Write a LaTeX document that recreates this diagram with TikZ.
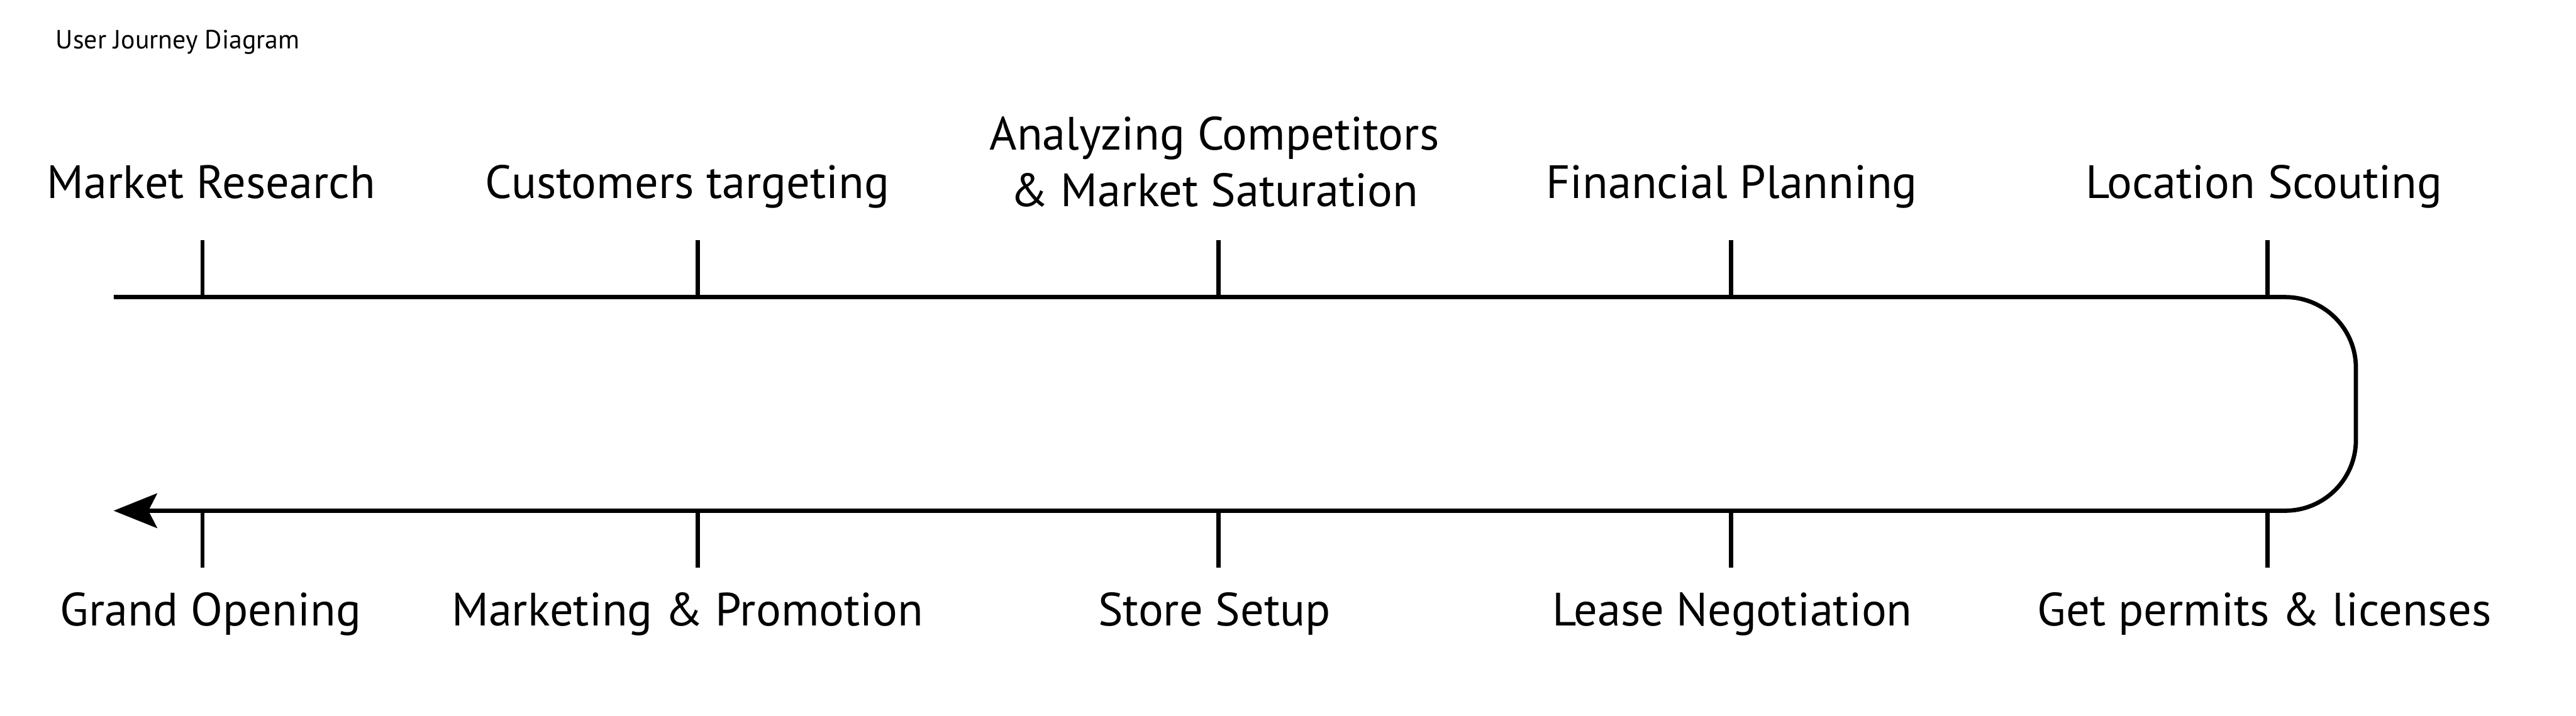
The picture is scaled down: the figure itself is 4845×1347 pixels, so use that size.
\documentclass[tikz,border=0pt]{standalone}
\usepackage{fontspec}
\setmainfont{PT Sans}
\usetikzlibrary{arrows.meta}
\tikzset{
  journey/.style={line width=8pt, rounded corners=133pt,
    -{Stealth[length=82pt,width=66pt,inset=17pt,line width=0.01pt]}},
  tickmark/.style={line width=8pt},
  stage/.style={anchor=base, inner sep=0pt, align=center,
    font=\fontsize{88}{106}\selectfont},
  heading/.style={anchor=base west, inner sep=0pt,
    font=\fontsize{49.5}{60}\selectfont}
}
\begin{document}
\begin{tikzpicture}[x=1pt,y=1pt]
\useasboundingbox[fill=white] (0,0) rectangle (4845,-1347);
\node[heading] (title) at (105,-92) {User Journey Diagram};
% main path
\coordinate (start) at (214,-559);
\coordinate (tr) at (4431,-559);
\coordinate (br) at (4431,-961);
\coordinate (end) at (214,-961);
\draw[journey] (start) -- (tr) -- (br) -- (end);
% ticks on the top line
\foreach \x [count=\i] in {381,1312,2292,3256,4265}{
  \coordinate (ta\i) at (\x,-452);
  \coordinate (tb\i) at (\x,-559);
  \draw[tickmark] (ta\i) -- (tb\i);
  \coordinate (ba\i) at (\x,-961);
  \coordinate (bb\i) at (\x,-1068);
  \draw[tickmark] (ba\i) -- (bb\i);
}
% top labels
\node[stage] (s1) at (397,-373) {Market Research};
\node[stage] (s2) at (1293,-373) {Customers targeting};
\node[stage] (s3a) at (2284,-282) {Analyzing Competitors};
\node[stage] (s3b) at (2284,-388) {\& Market Saturation};
\node[stage] (s4) at (3257,-373) {Financial Planning};
\node[stage] (s5) at (4258,-373) {Location Scouting};
% bottom labels
\node[stage] (s6) at (4259,-1178) {Get permits \& licenses};
\node[stage] (s7) at (3258,-1178) {Lease Negotiation};
\node[stage] (s8) at (2284,-1178) {Store Setup};
\node[stage] (s9) at (1293,-1178) {Marketing \& Promotion};
\node[stage] (s10) at (396,-1178) {Grand Opening};
\end{tikzpicture}
\end{document}
